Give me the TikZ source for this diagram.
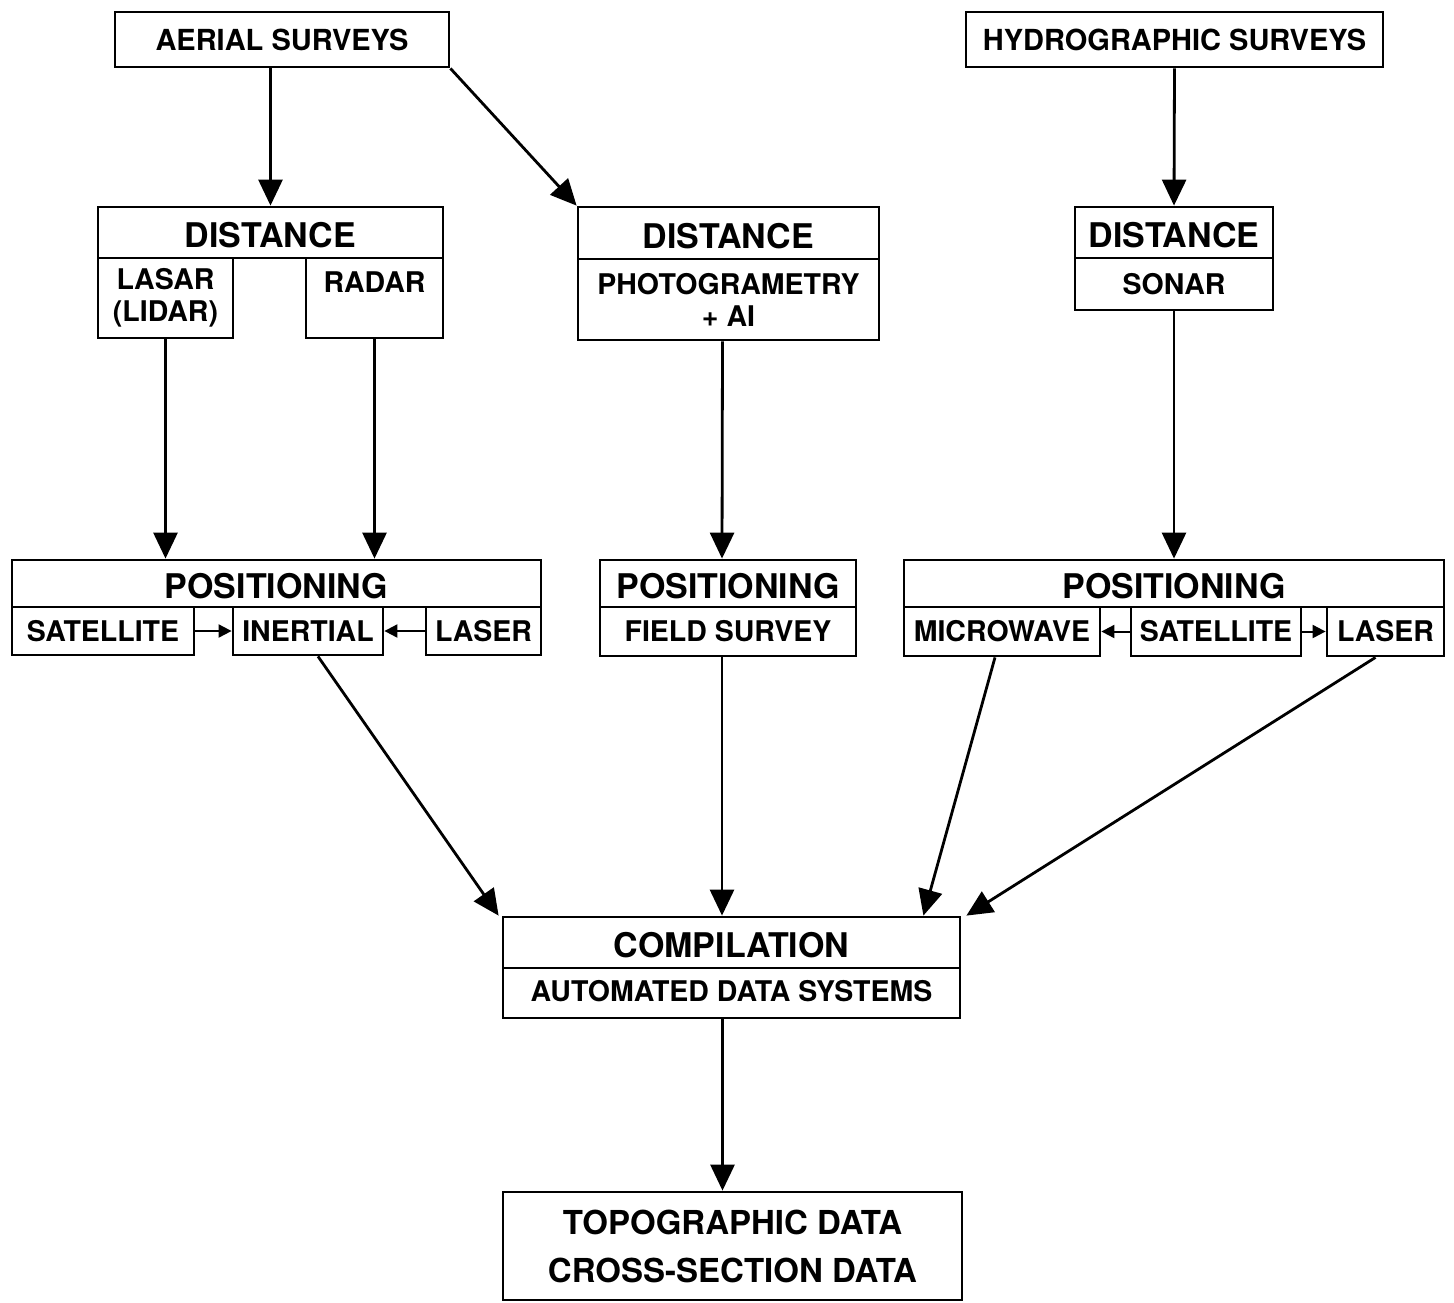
\documentclass[tikz,border=0pt]{standalone}
\usepackage{fontspec}
\setmainfont{TeX Gyre Heros}
\usetikzlibrary{arrows.meta}

\begin{document}
\begin{tikzpicture}[x=1pt,y=-1pt,
  box/.style={draw,line width=2.8pt,inner sep=0pt,align=center},
  head/.style={box,text height=31pt,font=\fontsize{34}{38}\selectfont\bfseries},
  sub/.style={box,font=\fontsize{28.5}{32}\selectfont\bfseries},
  sz/.style 2 args={minimum width=#1pt,minimum height=#2pt},
  arr/.style={line width=2.8pt,-{Triangle[length=26pt,width=24pt]}},
  tip/.style={line width=2pt,-{Triangle[length=13pt,width=13pt]}}]
  \useasboundingbox (0,0) rectangle (1454,1302);
  % sources
  \node[sub,sz={334}{55},font=\fontsize{29}{32}\selectfont\bfseries] (aer) at (282,39.5) {AERIAL SURVEYS};
  \node[sub,sz={417}{55},font=\fontsize{29}{32}\selectfont\bfseries] (hyd) at (1174.5,39.5) {HYDROGRAPHIC SURVEYS};
  % distance
  \node[head,sz={345}{51}] (dl) at (270.5,232.5) {DISTANCE};
  \node[sub,sz={135}{80}] (lasar) at (165.5,298) {LASAR\\(LIDAR)};
  \node[sub,sz={137}{80}] (radar) at (374.5,298) {RADAR\\\mbox{}};
  \node[head,sz={301}{52}] (dm) at (728.5,233) {DISTANCE};
  \node[sub,sz={301}{81}] (photo) at (728.5,299.5) {PHOTOGRAMETRY\\+ AI};
  \node[head,sz={198}{51}] (dr) at (1174,232.5) {DISTANCE};
  \node[sub,sz={198}{52}] (sonar) at (1174,284) {SONAR};
  % positioning
  \node[head,sz={529}{47}] (posl) at (276.5,583.5) {POSITIONING};
  \node[sub,sz={182}{48}] (satl) at (103,631) {SATELLITE};
  \node[sub,sz={150}{48}] (inert) at (308,631) {INERTIAL};
  \node[sub,sz={115}{48}] (laserl) at (483.5,631) {LASER};
  \node[head,sz={256}{47}] (posm) at (728,583.5) {POSITIONING};
  \node[sub,sz={256}{49}] (field) at (728,631.5) {FIELD SURVEY};
  \node[head,sz={540}{47}] (posr) at (1174,583.5) {POSITIONING};
  \node[sub,sz={196}{49}] (micro) at (1002,631.5) {MICROWAVE};
  \node[sub,sz={170}{49}] (satr) at (1216,631.5) {SATELLITE};
  \node[sub,sz={117}{49}] (laserr) at (1385.5,631.5) {LASER};
  % compilation and output
  \node[head,sz={457}{51}] (comp) at (731.5,942.5) {COMPILATION};
  \node[sub,sz={457}{50},text depth=4pt] (ads) at (731.5,993) {AUTOMATED DATA SYSTEMS};
  \node[box,sz={459}{108},font=\fontsize{33}{48}\selectfont\bfseries] (topo) at (732.5,1246) {TOPOGRAPHIC DATA\\CROSS-SECTION DATA};

  \draw[arr] (aer.south -| dl.north) -- (dl.north);
  \draw[arr] (aer.south east) -- (dm.north west);
  \draw[arr] (hyd.south) -- (dr.north);
  \draw[arr] (lasar.south) -- (lasar.south |- posl.north);
  \draw[arr] (radar.south) -- (radar.south |- posl.north);
  \draw[arr] ([xshift=-6pt]photo.south) -- ([xshift=-6pt]posm.north);
  \draw[arr] (sonar.south) -- (sonar.south |- posr.north);
  \draw[arr] ([xshift=10pt]inert.south) -- ([xshift=-3pt]comp.north west);
  \draw[arr] ([xshift=-6pt]field.south) -- ([xshift=-6pt]field.south |- comp.north);
  \draw[arr] ([xshift=-7pt]micro.south) -- ([xshift=-38pt]comp.north east);
  \draw[arr] ([xshift=-10pt]laserr.south) -- ([xshift=5pt]comp.north east);
  \draw[arr] ([xshift=-9pt]ads.south) -- ([xshift=-9pt]ads.south |- topo.north);
  \draw[tip] (satl.east) -- (inert.west);
  \draw[tip] (laserl.west) -- (inert.east);
  \draw[tip] (satr.west) -- (micro.east);
  \draw[tip] (satr.east) -- (laserr.west);
\end{tikzpicture}
\end{document}
